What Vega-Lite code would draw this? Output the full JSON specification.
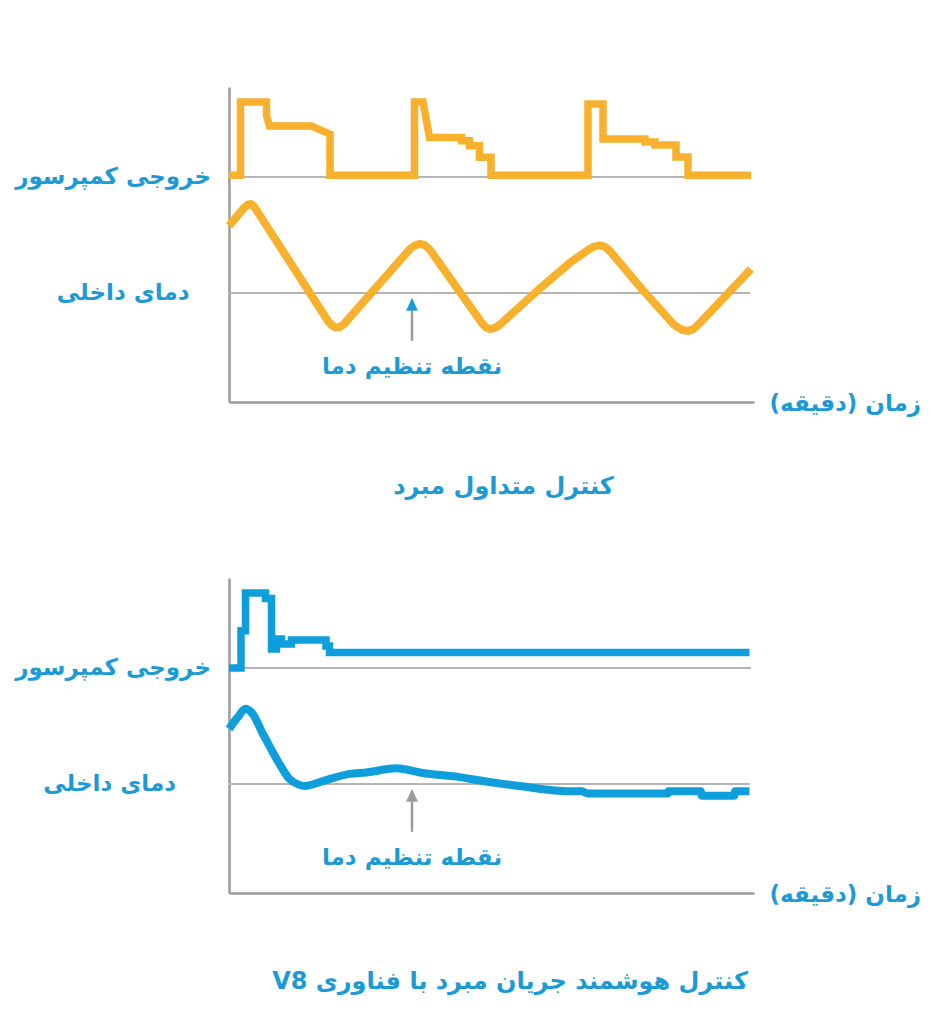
{
  "$schema": "https://vega.github.io/schema/vega-lite/v6.json",
  "background": "white",
  "padding": {"left": 15, "top": 87, "right": 5, "bottom": 5},
  "bounds": "flush",
  "spacing": 176,
  "config": {
    "view": {"stroke": null},
    "font": "DejaVu Sans",
    "axis": {"domainColor": "#9b9b9b", "domainWidth": 2.5, "ticks": false, "labels": false, "grid": false}
  },
  "datasets": {
    "refs": [
      {"t": 0, "t2": 104.4, "v": 75},
      {"t": 0, "t2": 104.2, "v": 36.3}
    ],
    "arrow": [{"t": 36.6, "v": 20.4, "v2": 30.4}],
    "arrowHead": [{"t": 36.6, "v": 32.6}],
    "compTop": [
      {"i": 0, "t": 0, "v": 75.6}, {"i": 1, "t": 2.3, "v": 75.6}, {"i": 2, "t": 2.3, "v": 100},
      {"i": 3, "t": 7.5, "v": 100}, {"i": 4, "t": 7.5, "v": 95.4}, {"i": 5, "t": 8.1, "v": 92},
      {"i": 6, "t": 16.5, "v": 92}, {"i": 7, "t": 18.8, "v": 90.3}, {"i": 8, "t": 20.2, "v": 89.3},
      {"i": 9, "t": 20.2, "v": 75.6}, {"i": 10, "t": 37.1, "v": 75.6}, {"i": 11, "t": 37.1, "v": 100},
      {"i": 12, "t": 38.8, "v": 100}, {"i": 13, "t": 40.1, "v": 88.2}, {"i": 14, "t": 46.5, "v": 88.2},
      {"i": 15, "t": 46.5, "v": 87.1}, {"i": 16, "t": 48.1, "v": 87.1}, {"i": 17, "t": 48.1, "v": 85.4},
      {"i": 18, "t": 50.1, "v": 85.4}, {"i": 19, "t": 50.1, "v": 81.6}, {"i": 20, "t": 52.4, "v": 81.6},
      {"i": 21, "t": 52.4, "v": 75.6}, {"i": 22, "t": 71.8, "v": 75.6}, {"i": 23, "t": 71.8, "v": 99.3},
      {"i": 24, "t": 74.8, "v": 99.3}, {"i": 25, "t": 74.8, "v": 87.7}, {"i": 26, "t": 83.2, "v": 87.7},
      {"i": 27, "t": 83.2, "v": 86.7}, {"i": 28, "t": 85.2, "v": 86.7}, {"i": 29, "t": 85.2, "v": 85.7},
      {"i": 30, "t": 89.4, "v": 85.7}, {"i": 31, "t": 89.4, "v": 81.7}, {"i": 32, "t": 91.8, "v": 81.7},
      {"i": 33, "t": 91.8, "v": 75.6}, {"i": 34, "t": 104.4, "v": 75.6}
    ],
    "tempTop": [
      {"t": 0, "v": 58.7}, {"t": 3, "v": 64.7}, {"t": 3.8, "v": 65.8}, {"t": 4.4, "v": 66},
      {"t": 5, "v": 65.2}, {"t": 19.8, "v": 27}, {"t": 20.6, "v": 25.5},
      {"t": 21.4, "v": 24.8}, {"t": 22.2, "v": 25}, {"t": 23, "v": 26}, {"t": 36.2, "v": 51},
      {"t": 37.2, "v": 52.2}, {"t": 38.2, "v": 52.7}, {"t": 39.2, "v": 52.2}, {"t": 40.2, "v": 50.7},
      {"t": 50.6, "v": 26.3}, {"t": 51.4, "v": 24.8}, {"t": 52.2, "v": 24.3}, {"t": 53.2, "v": 24.7},
      {"t": 54.2, "v": 25.8}, {"t": 61.8, "v": 37.3}, {"t": 68.4, "v": 46.7}, {"t": 71.8, "v": 50.7},
      {"t": 73, "v": 51.8}, {"t": 74.2, "v": 52.2}, {"t": 75.2, "v": 51.7}, {"t": 76.2, "v": 50.3},
      {"t": 82.5, "v": 37.8}, {"t": 89, "v": 25.7}, {"t": 90.6, "v": 24},
      {"t": 91.8, "v": 23.7}, {"t": 92.8, "v": 24.2}, {"t": 93.8, "v": 25.7}, {"t": 104.4, "v": 44.3}
    ],
    "compBottom": [
      {"i": 0, "t": 0, "v": 75}, {"i": 1, "t": 2.4, "v": 75}, {"i": 2, "t": 2.4, "v": 87.4},
      {"i": 3, "t": 3.3, "v": 87.4}, {"i": 4, "t": 3.3, "v": 100}, {"i": 5, "t": 7.3, "v": 100},
      {"i": 6, "t": 7.3, "v": 98.2}, {"i": 7, "t": 8.5, "v": 98.2}, {"i": 8, "t": 8.5, "v": 81.3},
      {"i": 9, "t": 9.5, "v": 81.3}, {"i": 10, "t": 9.5, "v": 84.7}, {"i": 11, "t": 10.5, "v": 84.7},
      {"i": 12, "t": 10.5, "v": 83}, {"i": 13, "t": 12.5, "v": 83}, {"i": 14, "t": 12.5, "v": 84.3},
      {"i": 15, "t": 19.4, "v": 84.3}, {"i": 16, "t": 19.4, "v": 82.3}, {"i": 17, "t": 20.1, "v": 82.3},
      {"i": 18, "t": 20.1, "v": 80.2}, {"i": 19, "t": 104.1, "v": 80.2}
    ],
    "tempBottom": [
      {"t": 0, "v": 54.7}, {"t": 1.8, "v": 58.7}, {"t": 3.3, "v": 61.4}, {"t": 4.6, "v": 60},
      {"t": 6.8, "v": 53}, {"t": 10.1, "v": 43}, {"t": 12.1, "v": 38}, {"t": 13.8, "v": 36.2},
      {"t": 15.2, "v": 35.7}, {"t": 18.8, "v": 37.3}, {"t": 24.1, "v": 39.7}, {"t": 27.5, "v": 40.2},
      {"t": 33.5, "v": 41.6}, {"t": 38.8, "v": 40}, {"t": 45.5, "v": 38.8}, {"t": 52, "v": 37},
      {"t": 58.5, "v": 35.6}, {"t": 65.1, "v": 34.2}, {"t": 69.4, "v": 33.9}, {"t": 70.4, "v": 34},
      {"t": 71.8, "v": 33.2}, {"t": 87.8, "v": 33.2}, {"t": 87.9, "v": 33.9}, {"t": 94.4, "v": 33.9},
      {"t": 94.5, "v": 32.4}, {"t": 101.1, "v": 32.4}, {"t": 101.2, "v": 33.9}, {"t": 104.1, "v": 33.9}
    ],
    "sideTop": [
      {"t": -3.6, "v": 75, "label": "خروجی کمپرسور"},
      {"t": -7.9, "v": 36.3, "label": "دمای داخلی"}
    ],
    "sideBottom": [
      {"t": -3.6, "v": 75, "label": "خروجی کمپرسور"},
      {"t": -10.6, "v": 36.3, "label": "دمای داخلی"}
    ],
    "setpointLabel": [{"t": 36.6, "v": 11.7, "label": "نقطه تنظیم دما"}],
    "titleTop": [{"t": 54.9, "v": -28.3, "label": "کنترل متداول مبرد"}],
    "titleBottom": [{"t": 56.2, "v": -29.6, "label": "\u202bکنترل هوشمند جریان مبرد با فناوری V8\u202c"}],
    "timeLabel": [{"t": 108.1, "v": -0.5, "label": "زمان (دقیقه)\u200f"}]
  },
  "vconcat": [
    {
      "width": 525,
      "height": 315,
      "encoding": {
        "x": {"field": "t", "type": "quantitative", "scale": {"domain": [0, 105], "nice": false, "zero": false}, "axis": {"title": null}},
        "y": {"field": "v", "type": "quantitative", "scale": {"domain": [0, 105], "nice": false, "zero": false}, "axis": {"title": null}}
      },
      "layer": [
        {"data": {"name": "refs"}, "mark": {"type": "rule", "color": "#b5b5b5", "strokeWidth": 2}, "encoding": {"x2": {"field": "t2"}}},
        {"data": {"name": "compTop"}, "mark": {"type": "line", "color": "#f7b12c", "strokeWidth": 7.5, "strokeJoin": "miter", "strokeCap": "butt"}, "encoding": {"order": {"field": "i", "type": "quantitative"}}},
        {"data": {"name": "tempTop"}, "mark": {"type": "line", "color": "#f7b12c", "strokeWidth": 8, "strokeJoin": "round", "strokeCap": "butt"}},
        {"data": {"name": "arrow"}, "mark": {"type": "rule", "color": "#9b9b9b", "strokeWidth": 2.5}, "encoding": {"y2": {"field": "v2"}}},
        {"data": {"name": "arrowHead"}, "mark": {"type": "point", "shape": "M0,-1L-0.9,1L0.9,1Z", "filled": true, "opacity": 1, "color": "#1b9ad6", "size": 169}},
        {"data": {"name": "sideTop"}, "mark": {"type": "text", "align": "right", "baseline": "middle", "fontSize": 23, "fontWeight": "bold", "color": "#1b9ad6"}, "encoding": {"text": {"field": "label"}}},
        {"data": {"name": "setpointLabel"}, "mark": {"type": "text", "align": "center", "baseline": "middle", "fontSize": 23, "fontWeight": "bold", "color": "#1b9ad6"}, "encoding": {"text": {"field": "label"}}},
        {"data": {"name": "titleTop"}, "mark": {"type": "text", "align": "center", "baseline": "middle", "fontSize": 24, "fontWeight": "bold", "color": "#1b9ad6"}, "encoding": {"text": {"field": "label"}}},
        {"data": {"name": "timeLabel"}, "mark": {"type": "text", "align": "left", "baseline": "middle", "fontSize": 23, "fontWeight": "bold", "color": "#1b9ad6"}, "encoding": {"text": {"field": "label"}}}
      ]
    },
    {
      "width": 525,
      "height": 315,
      "encoding": {
        "x": {"field": "t", "type": "quantitative", "scale": {"domain": [0, 105], "nice": false, "zero": false}, "axis": {"title": null}},
        "y": {"field": "v", "type": "quantitative", "scale": {"domain": [0, 105], "nice": false, "zero": false}, "axis": {"title": null}}
      },
      "layer": [
        {"data": {"name": "refs"}, "mark": {"type": "rule", "color": "#b5b5b5", "strokeWidth": 2}, "encoding": {"x2": {"field": "t2"}}},
        {"data": {"name": "compBottom"}, "mark": {"type": "line", "color": "#0e9edc", "strokeWidth": 7.5, "strokeJoin": "miter", "strokeCap": "butt"}, "encoding": {"order": {"field": "i", "type": "quantitative"}}},
        {"data": {"name": "tempBottom"}, "mark": {"type": "line", "color": "#0e9edc", "strokeWidth": 8, "interpolate": "monotone", "strokeCap": "butt"}},
        {"data": {"name": "arrow"}, "mark": {"type": "rule", "color": "#9b9b9b", "strokeWidth": 2.5}, "encoding": {"y2": {"field": "v2"}}},
        {"data": {"name": "arrowHead"}, "mark": {"type": "point", "shape": "M0,-1L-0.9,1L0.9,1Z", "filled": true, "opacity": 1, "color": "#9b9b9b", "size": 169}},
        {"data": {"name": "sideBottom"}, "mark": {"type": "text", "align": "right", "baseline": "middle", "fontSize": 23, "fontWeight": "bold", "color": "#1b9ad6"}, "encoding": {"text": {"field": "label"}}},
        {"data": {"name": "setpointLabel"}, "mark": {"type": "text", "align": "center", "baseline": "middle", "fontSize": 23, "fontWeight": "bold", "color": "#1b9ad6"}, "encoding": {"text": {"field": "label"}}},
        {"data": {"name": "titleBottom"}, "mark": {"type": "text", "align": "center", "baseline": "middle", "fontSize": 24, "fontWeight": "bold", "color": "#1b9ad6"}, "encoding": {"text": {"field": "label"}}},
        {"data": {"name": "timeLabel"}, "mark": {"type": "text", "align": "left", "baseline": "middle", "fontSize": 23, "fontWeight": "bold", "color": "#1b9ad6"}, "encoding": {"text": {"field": "label"}}}
      ]
    }
  ]
}
